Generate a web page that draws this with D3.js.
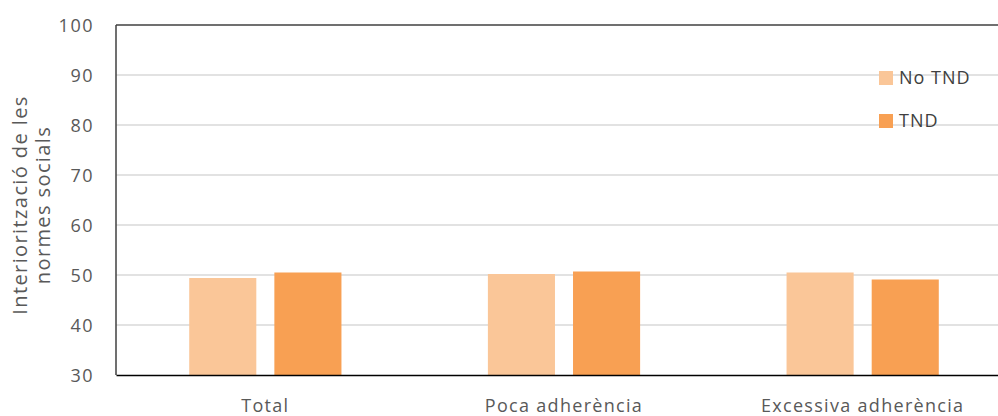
<!DOCTYPE html>
<html><head><meta charset="utf-8">
<script src="https://cdn.jsdelivr.net/npm/d3@7"></script>
<style>
html,body{margin:0;padding:0;background:#fff;}
svg{display:block;font-family:"Open Sans",sans-serif;}
</style></head>
<body><svg id="c" width="998" height="416"></svg>
<script>
const categories = ["Total", "Poca adherència", "Excessiva adherència"];
const series = ["No TND", "TND"];
const noTND = [49.4, 50.2, 50.5];
const tnd = [50.5, 50.7, 49.1];
const yTicks = [30, 40, 50, 60, 70, 80, 90, 100];
const colors = ["#FAC698", "#F8A053"];
const yTitle = ["Interiorització de les", "normes socials"];

const values = [noTND, tnd];
const svg = d3.select("#c");
const m = {left:116, top:25, right:1012, bottom:375};

const x = d3.scaleBand().domain(categories).range([m.left, m.right]).padding(0);
const xs = d3.scaleBand().domain(series).range([0, x.bandwidth()]).paddingInner(0.212).paddingOuter(0.86);
const y = d3.scaleLinear().domain([30, 100]).range([m.bottom, m.top]);

// gridlines
svg.append("g").selectAll("line").data(yTicks.filter(t => t > 30 && t < 100)).join("line")
  .attr("x1", m.left).attr("x2", m.right)
  .attr("y1", d => y(d)).attr("y2", d => y(d))
  .attr("stroke", "#d9d9d9").attr("stroke-width", 1.5);

// bars
series.forEach((s, si) => {
  svg.append("g").selectAll("rect").data(categories).join("rect")
    .attr("x", c => x(c) + xs(s))
    .attr("width", xs.bandwidth())
    .attr("y", (c, i) => y(values[si][i]))
    .attr("height", (c, i) => y(30) - y(values[si][i]))
    .attr("fill", colors[si]);
});

// frame: top and left
svg.append("line").attr("x1", m.left).attr("x2", m.right).attr("y1", y(100)).attr("y2", y(100))
  .attr("stroke", "#404040").attr("stroke-width", 1.5);
svg.append("line").attr("x1", m.left).attr("x2", m.left).attr("y1", y(100)).attr("y2", y(30))
  .attr("stroke", "#404040").attr("stroke-width", 1.5);

// y axis
const yAxis = svg.append("g").attr("transform", `translate(${m.left},0)`)
  .call(d3.axisLeft(y).tickValues(yTicks).tickSize(0).tickPadding(22));
yAxis.select(".domain").remove();
yAxis.selectAll("text").attr("fill", "#595959").style("font-size", "18px")
  .style("font-family", "'Open Sans',sans-serif").style("letter-spacing", "1.5px").attr("dy", "0.35em");

// x axis
const xAxis = svg.append("g").attr("transform", `translate(0,${m.bottom})`)
  .call(d3.axisBottom(x).tickSize(0).tickPadding(24));
xAxis.select(".domain").attr("stroke", "#000").attr("stroke-width", 1.5);
xAxis.selectAll("text").attr("fill", "#595959").style("font-size", "18px")
  .style("font-family", "'Open Sans',sans-serif").style("letter-spacing", "1.3px");

// y title
const yt = svg.append("text").attr("transform", "translate(27,205) rotate(-90)")
  .attr("text-anchor", "middle").attr("fill", "#595959").style("font-size", "20px")
  .style("letter-spacing", "1.4px");
yTitle.forEach((t, i) => yt.append("tspan").attr("x", 0).attr("dy", i === 0 ? 0 : 23).text(t));

// legend
const lg = svg.append("g").selectAll("g").data(series).join("g")
  .attr("transform", (d, i) => `translate(879,${71 + i * 43})`);
lg.append("rect").attr("width", 14).attr("height", 14).attr("fill", (d, i) => colors[i]);
lg.append("text").attr("x", 20).attr("y", 7).attr("dy", "0.35em").attr("fill", "#404040")
  .style("font-size", "18px").style("letter-spacing", "1px").text(d => d);
</script></body></html>
